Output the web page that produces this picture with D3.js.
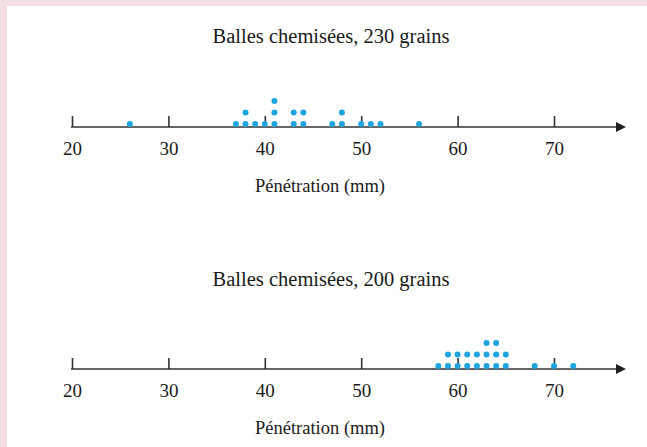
<!DOCTYPE html>
<html>
<head>
<meta charset="utf-8">
<style>
  body { margin: 0; background: #fff; }
  svg { display: block; }
  text { font-family: "Liberation Serif", "Times New Roman", serif; fill: #1a1a1a; }
</style>
</head>
<body>
<svg width="647" height="447"></svg>
<script src="https://d3js.org/d3.v7.min.js"></script>
<script>

// Penetration (mm), one entry per dot
var pen230 = [26, 37, 38, 38, 39, 40, 41, 41, 41, 43, 43, 44, 44, 47, 48, 48, 50, 51, 52, 56];
var pen200 = [58, 59, 59, 60, 60, 61, 61, 62, 62, 63, 63, 63, 64, 64, 64, 65, 65, 68, 70, 72];
var tickValues = [20, 30, 40, 50, 60, 70];
var titles = ["Balles chemisées, 230 grains", "Balles chemisées, 200 grains"];
var axisLabel = "Pénétration (mm)";

var svg = d3.select("svg"),
    width = +svg.attr("width"),
    height = +svg.attr("height");

// pink frame on top and left
svg.append("rect").attr("width", width).attr("height", height).attr("fill", "#f4e0e3");
svg.append("rect").attr("x", 7).attr("y", 6).attr("width", width - 7).attr("height", height - 6).attr("fill", "#fff");

var x = d3.scaleLinear().domain([20, 70]).range([72, 554]);

var defs = svg.append("defs");
defs.append("marker")
    .attr("id", "arrow")
    .attr("viewBox", "0 0 10 10")
    .attr("refX", 2).attr("refY", 5)
    .attr("markerWidth", 7).attr("markerHeight", 5)
    .attr("markerUnits", "strokeWidth")
    .attr("orient", "auto")
  .append("path")
    .attr("d", "M0,0 L10,5 L0,10 Z")
    .attr("fill", "#222");

function dotPlot(values, title, axisY, titleY) {
  var g = svg.append("g");

  g.append("text")
      .attr("x", 331).attr("y", titleY)
      .attr("text-anchor", "middle")
      .attr("font-size", 20.5)
      .text(title);

  // axis line with arrow
  g.append("line")
      .attr("x1", x(20) - 1).attr("x2", 618)
      .attr("y1", axisY).attr("y2", axisY)
      .attr("stroke", "#666").attr("stroke-width", 2)
      .attr("marker-end", "url(#arrow)");

  var axis = d3.axisBottom(x).tickValues(tickValues).tickSize(0).tickPadding(15);
  var ax = g.append("g").attr("transform", "translate(0," + axisY + ")").call(axis);
  ax.select(".domain").remove();
  ax.selectAll(".tick text").attr("font-size", 19).attr("fill", "#1a1a1a")
      .attr("font-family", "Liberation Serif, serif");
  ax.selectAll(".tick").append("line")
      .attr("y1", 0).attr("y2", -11)
      .attr("stroke", "#333").attr("stroke-width", 1.6);

  // stack repeated values
  var counts = {};
  var dots = values.map(function(v) {
    counts[v] = (counts[v] || 0) + 1;
    return { v: v, k: counts[v] - 1 };
  });

  g.selectAll("circle.dot")
    .data(dots)
    .enter().append("circle")
      .attr("class", "dot")
      .attr("cx", function(d) { return x(d.v); })
      .attr("cy", function(d) { return axisY - 3 - d.k * 11.5; })
      .attr("r", 3)
      .attr("fill", "#1ea5df");

  g.append("text")
      .attr("x", 320).attr("y", axisY + 65)
      .attr("text-anchor", "middle")
      .attr("font-size", 18.5)
      .text(axisLabel);
}

dotPlot(pen230, titles[0], 127, 43);
dotPlot(pen200, titles[1], 369, 286);

</script>
</body>
</html>
